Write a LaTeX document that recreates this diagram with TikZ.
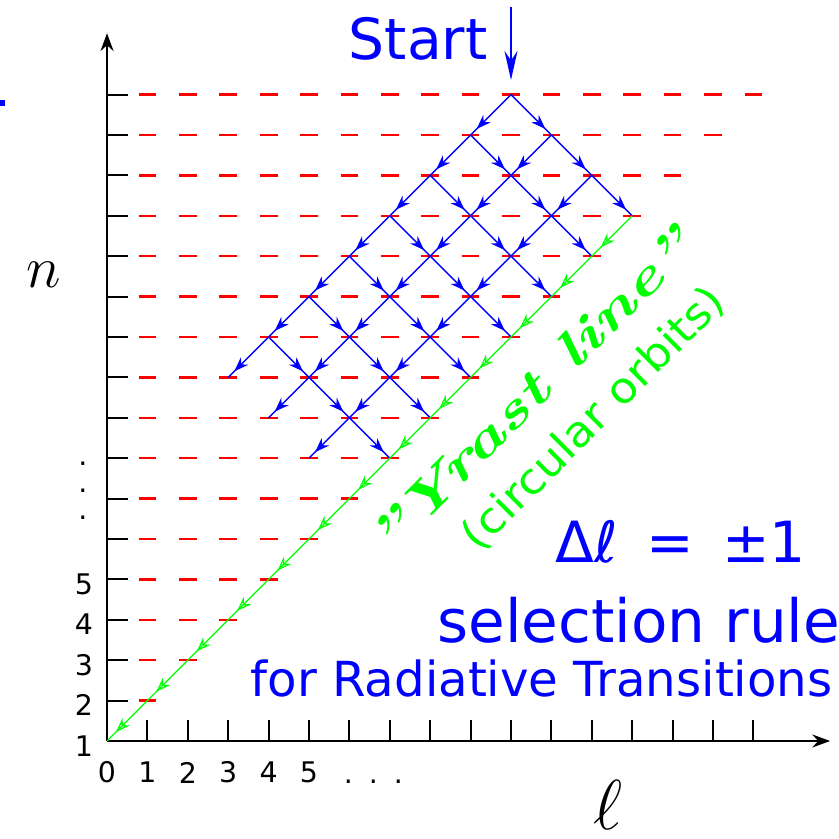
\documentclass[tikz,border=0pt]{standalone}
\usepackage{fontspec}
\setsansfont{DejaVu Sans}
\usetikzlibrary{
  arrows.meta,
  decorations.markings,
  positioning
}
\definecolor{level_red}{RGB}{255, 0, 0}
\definecolor{trans_blue}{RGB}{0, 0, 255}
\definecolor{yrast_green}{RGB}{0, 255, 0}

\begin{document}
\begin{tikzpicture}[
    % Styles
    x=0.5cm, y=0.5cm,
    font=\sffamily,
    >=Stealth,
    % Axes
    axis/.style={
        draw=black,
        line width=0.75pt
    },
    level/.style={
        draw=level_red,
        line width=0.9pt,
        dash pattern=on 2.2mm off 2.8mm
    },
    % Transitions
    trans/.style={
        draw=trans_blue,
        line width=0.5pt,
        decoration={markings,
            mark=at position 0.85 with {\arrow{Stealth[length=1.8mm,width=1.3mm]}}},
        postaction={decorate}
    },
    yrast/.style={
        draw=yrast_green,
        line width=0.45pt,
        decoration={markings,
            mark=at position 0.78 with {\arrow{Stealth[open,length=1.8mm,width=1.3mm]}}},
        postaction={decorate}
    },
    ticklabel/.style={
        font=\sffamily\fontsize{10}{12}\selectfont,
        inner sep=0pt
    },
    caption/.style={
        text=trans_blue,
        anchor=base west,
        inner sep=0pt
    }
]

\useasboundingbox (-2.649,-2.426) rectangle (18.119,18.342);

% --- AXES ---

% 1. Axis ends
\coordinate (origin) at (0,0);
\coordinate (lend) at (17.9,0);
\coordinate (nend) at (0,17.52);

% 2. Energy levels (red) and ticks
\foreach \y in {1,...,16} {
    \draw[level] (0.78,\y) -- ({\y+0.22},\y);
    \draw[axis] (0,\y) -- (0.52,\y);
    \draw[axis] (\y,0) -- (\y,0.52);
}
\draw[axis, -{Stealth[length=2.2mm,width=1.6mm]}] (origin) -- (lend);
\draw[axis, -{Stealth[length=2.2mm,width=1.6mm]}] (origin) -- (nend);

% 3. Tick labels
\foreach \n in {1,...,5}
    \node[ticklabel] (nlab\n) at (-0.57,{\n-1-0.12}) {\n};
\foreach \l in {0,...,5}
    \node[ticklabel] (llab\l) at (\l,-0.78) {\l};
\foreach \d [count=\i] in {5.49,6.16,6.83}
    \node[ticklabel, anchor=base] (vdot\i) at (-0.6,\d) {.};
\node[ticklabel, anchor=base west] (hdots) at (5.85,-1.06) {.\hspace{5.6pt}.\hspace{5.6pt}.};

\node[inner sep=0pt] (nsym) at (-1.56,11.53) {\fontsize{22}{22}\selectfont$n$};
\node[inner sep=0pt] (lsym) at (12.4,-1.58) {\fontsize{30}{30}\selectfont$\ell$};

% stray mark at the left edge
\fill[trans_blue] (-2.649,15.72) rectangle (-2.525,15.87);

% --- CASCADE ---

% Lattice points: u steps down-left, v steps down-right
\foreach \u in {0,...,7} {
    \foreach \v in {0,...,3} {
        \coordinate (s\u\v) at ({10-\u+\v},{16-\u-\v});
    }
}
\foreach \k in {0,...,13}
    \coordinate (y\k) at (\k,\k);

% Start
\node[caption, font=\sffamily\fontsize{20}{20}\selectfont] (start) at (5.97,16.86) {Start};
\coordinate (starttop) at (10,18.17);
\draw[trans_blue, line width=0.8pt, -{Stealth[length=3.6mm,width=1.6mm]}, shorten >=1.8mm] (starttop) -- (s00);

% Allowed transitions
\foreach \u [evaluate=\u as \ud using int(\u+1)] in {0,...,6} {
    \foreach \v [evaluate=\v as \vd using int(\v+1)] in {0,...,2} {
        \draw[trans] (s\u\v) -- (s\ud\v);
        \draw[trans] (s\u\v) -- (s\u\vd);
    }
}

% Yrast line
\foreach \k [evaluate=\k as \km using int(\k-1)] in {1,...,13}
    \draw[yrast] (y\k) -- (y\km);

% --- ANNOTATIONS ---

\node[text=yrast_green, rotate=45, inner sep=0pt,
      font=\rmfamily\bfseries\itshape\fontsize{18}{18}\selectfont] (yrastlabel) at (10.48,8.64) {\scalebox{1.4}[1]{''Yrast line''}};
\node[text=yrast_green, rotate=45, inner sep=0pt,
      font=\sffamily\fontsize{15}{15}\selectfont] (orbitlabel) at (12.05,7.98) {\scalebox{1.08}[1]{(circular orbits)}};

\node[caption, font=\sffamily\fontsize{20}{20}\selectfont] (rule) at (11.09,4.43) {Δℓ\enspace=\enspace±1};
\node[caption, font=\sffamily\fontsize{21}{21}\selectfont] (selection) at (8.17,2.43) {selection rule};
\node[caption, font=\sffamily\fontsize{17}{17}\selectfont] (radiative) at (3.54,1.09) {for Radiative Transitions};

\end{tikzpicture}
\end{document}
